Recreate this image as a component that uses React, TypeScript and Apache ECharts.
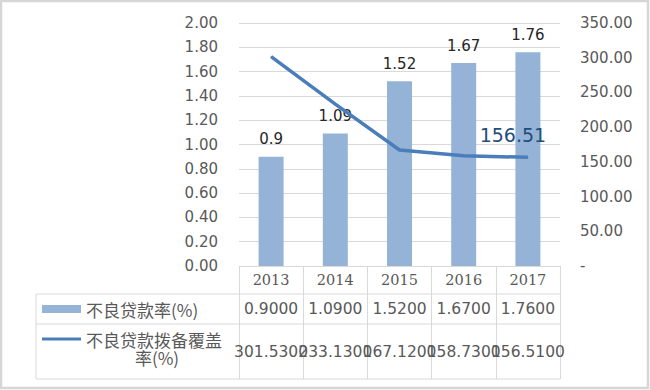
import React, { useEffect, useRef } from "react";
import * as echarts from "echarts";

const years = ["2013", "2014", "2015", "2016", "2017"];
const nplRatio = [0.9, 1.09, 1.52, 1.67, 1.76];
const coverage = [301.53, 233.13, 167.12, 158.73, 156.51];
const nplName = "不良贷款率(%)";
const coverageName = "不良贷款拨备覆盖率(%)";
const coverageLine1 = "不良贷款拨备覆盖";
const coverageLine2 = "率(%)";

const NUM_FONT = "DejaVu Sans, Noto Sans CJK SC, sans-serif";
const YEAR_FONT = "DejaVu Serif, serif";
const CJK_FONT = "Noto Sans CJK SC, DejaVu Sans, sans-serif";
const GRAY = "#595959";
const LINE_GRAY = "#d9d9d9";
const BAR_COLOR = "#95B3D7";
const LINE_COLOR = "#4A7EBB";

export default function App() {
  const ref = useRef<HTMLDivElement>(null);
  useEffect(() => {
    if (!ref.current) return;
    const chart = echarts.init(ref.current, null, { renderer: "svg" });
    const gridLeft = 239;
    const gridRight = 560;
    const gridTop = 23;
    const gridBottom = 266;
    const tableLeft = 36;
    const rowLines = [294, 324, 379];
    const hLines = rowLines.map((y) => ({
      type: "line",
      shape: { x1: tableLeft, y1: y, x2: gridRight, y2: y },
      style: { stroke: LINE_GRAY, lineWidth: 1 },
      silent: true,
    }));
    chart.setOption({
      animation: false,
      textStyle: { fontFamily: NUM_FONT },
      grid: {
        left: gridLeft,
        right: 650 - gridRight,
        top: gridTop,
        bottom: 390 - gridBottom,
        containLabel: false,
      },
      legend: [
        {
          left: 42,
          top: 299,
          padding: 0,
          itemWidth: 39,
          itemHeight: 8,
          icon: "rect",
          data: [{ name: nplName, icon: "rect" }],
          selectedMode: false,
          textStyle: { fontFamily: CJK_FONT, fontSize: 17, color: GRAY, lineHeight: 20 },
        },
        {
          left: 42,
          top: 329,
          padding: 0,
          itemWidth: 39,
          itemHeight: 3,
          icon: "rect",
          data: [{ name: coverageName, icon: "rect" }],
          selectedMode: false,
          formatter: () => coverageLine1,
          textStyle: { fontFamily: CJK_FONT, fontSize: 17, color: GRAY, lineHeight: 20 },
        },
      ],
      xAxis: [
        {
          type: "category",
          data: years,
          position: "bottom",
          boundaryGap: true,
          axisLine: { show: true, lineStyle: { color: LINE_GRAY, width: 1 } },
          axisTick: { show: true, interval: 0, length: 113, lineStyle: { color: LINE_GRAY } },
          axisLabel: { color: GRAY, fontSize: 14.5, margin: 6, fontFamily: YEAR_FONT },
        },
        {
          type: "category",
          data: nplRatio.map((v) => v.toFixed(4)),
          position: "bottom",
          offset: 28,
          axisLine: { show: false },
          axisTick: { show: false },
          axisLabel: { color: GRAY, fontSize: 15.5, margin: 7, interval: 0, fontFamily: NUM_FONT },
        },
        {
          type: "category",
          data: coverage.map((v) => v.toFixed(4)),
          position: "bottom",
          offset: 58,
          axisLine: { show: false },
          axisTick: { show: false },
          axisLabel: { color: GRAY, fontSize: 15.5, margin: 20, interval: 0, fontFamily: NUM_FONT },
        },
      ],
      yAxis: [
        {
          type: "value",
          min: 0,
          max: 2,
          interval: 0.2,
          axisLine: { show: false },
          axisTick: { show: false },
          splitLine: { show: true, lineStyle: { color: LINE_GRAY, width: 1 } },
          axisLabel: {
            color: GRAY,
            fontSize: 15,
            margin: 21,
            formatter: (v: number) => v.toFixed(2),
          },
        },
        {
          type: "value",
          min: 0,
          max: 350,
          interval: 50,
          position: "right",
          axisLine: { show: false },
          axisTick: { show: false },
          splitLine: { show: false },
          axisLabel: {
            color: GRAY,
            fontSize: 15,
            margin: 20,
            align: "left",
            formatter: (v: number) => (v === 0 ? "-" : v.toFixed(2)),
          },
        },
      ],
      series: [
        {
          name: nplName,
          type: "bar",
          xAxisIndex: 0,
          yAxisIndex: 0,
          data: nplRatio,
          barWidth: 25,
          itemStyle: { color: BAR_COLOR },
          label: {
            show: true,
            position: "top",
            distance: 10,
            color: "#262626",
            fontSize: 15,
            formatter: (p: any) => String(p.value),
          },
        },
        {
          name: coverageName,
          type: "line",
          xAxisIndex: 0,
          yAxisIndex: 1,
          symbol: "circle",
          symbolSize: 1,
          showSymbol: true,
          itemStyle: { color: LINE_COLOR },
          lineStyle: { color: LINE_COLOR, width: 3.5 },
          label: { show: false },
          data: coverage.map((v, i) =>
            i === coverage.length - 1
              ? {
                  value: v,
                  label: {
                    show: true,
                    position: "top",
                    distance: 12,
                    offset: [-15, 0],
                    color: "#1F4E79",
                    fontSize: 19,
                    formatter: (p: any) => String(p.value),
                  },
                }
              : v
          ),
        },
      ],
      graphic: [
        {
          type: "rect",
          shape: { x: 1, y: 1, width: 647, height: 387 },
          style: { fill: "none", stroke: "#d6d6d6", lineWidth: 2.5 },
          silent: true,
        },
        ...hLines,
        {
          type: "line",
          shape: { x1: tableLeft, y1: rowLines[0], x2: tableLeft, y2: rowLines[2] },
          style: { stroke: LINE_GRAY, lineWidth: 1 },
          silent: true,
        },
        {
          type: "text",
          x: 157,
          y: 357,
          style: {
            text: coverageLine2,
            fontFamily: CJK_FONT,
            fontSize: 17,
            fill: GRAY,
            align: "center",
            verticalAlign: "middle",
          },
          silent: true,
        },
      ],
    });
    return () => chart.dispose();
  }, []);
  return (
    <div
      ref={ref}
      style={{ position: "absolute", left: 0, top: 0, width: 650, height: 390, background: "#fff" }}
    />
  );
}
